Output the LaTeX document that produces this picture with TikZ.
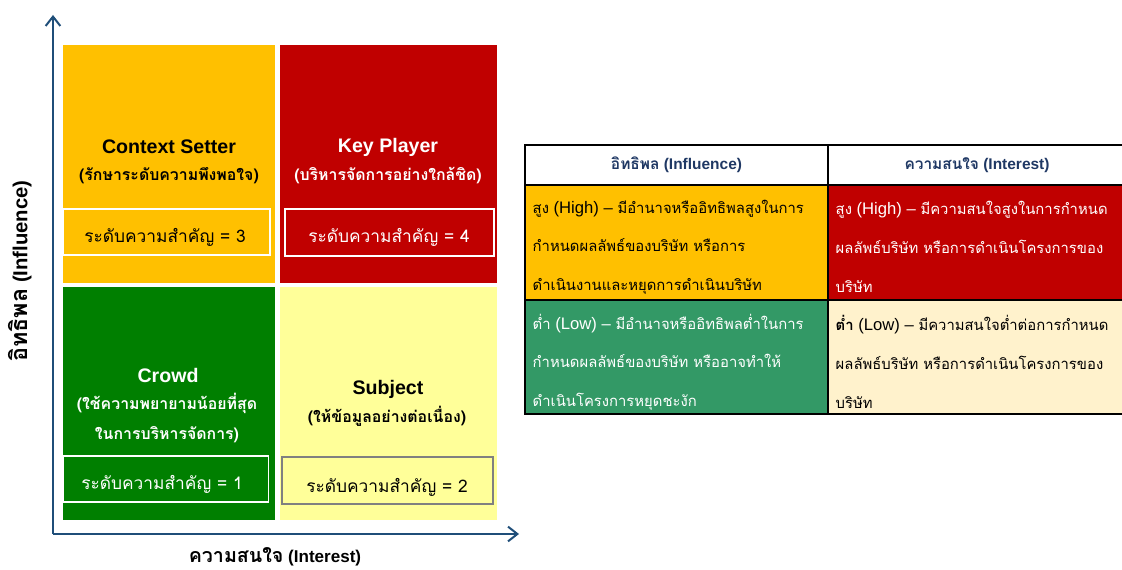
\documentclass[tikz,border=0pt]{standalone}
\usepackage{fontspec}
\setmainfont{Liberation Sans}
\newfontfamily\thai[Script=Thai]{Loma}
\newfontfamily\thaism[Script=Thai,Scale=0.89]{Loma}
\newfontfamily\thaibig[Script=Thai,Scale=1.15]{Loma}
\usetikzlibrary{arrows.meta}
\definecolor{axisblue}{HTML}{1F4E79}
\definecolor{setterfill}{HTML}{FFC000}
\definecolor{playerfill}{HTML}{C00000}
\definecolor{crowdfill}{HTML}{007F00}
\definecolor{subjectfill}{HTML}{FFFF99}
\definecolor{lowinfl}{HTML}{339966}
\definecolor{lowintr}{HTML}{FFF2CC}
\definecolor{headblue}{HTML}{1F3864}
\begin{document}
\begin{tikzpicture}[x=0.75pt,y=-0.75pt,
        role/.style={font=\bfseries\fontsize{14.7}{17}\selectfont},
        roledesc/.style={font=\thai\bfseries\fontsize{11.9}{22}\selectfont,align=center},
        rank/.style={font=\thai\fontsize{13}{15}\selectfont},
        headcell/.style={font=\bfseries\fontsize{11.6}{13}\selectfont,text=headblue},
        bodycell/.style={anchor=west,align=left,font=\fontsize{12.5}{29}\selectfont},
        axis/.style={axisblue,line width=1.5pt,-{Straight Barb[length=7pt,width=11pt,line width=1.5pt]}}]
    \useasboundingbox (0,0) rectangle (1122,570);
    % quadrants
    \fill[setterfill] (63,45) rectangle (275,283);
    \fill[playerfill] (280,45) rectangle (497,283);
    \fill[crowdfill] (63,287) rectangle (275,520);
    \fill[subjectfill] (280,287) rectangle (497,520);
    \draw[white,line width=1pt] (63,209) rectangle (270,255);
    \draw[white,line width=1pt] (285,209) rectangle (494,256);
    \draw[white,line width=1pt] (63,456) rectangle (268.5,502);
    \draw[gray,line width=1pt] (282,457) rectangle (493,504);
    \node[role] (setter) at (169,147) {Context Setter};
    \node[roledesc] (setterdesc) at (169,176) {(รักษาระดับความพึงพอใจ)};
    \node[rank] (setterrank) at (165,237) {ระดับความสำคัญ = 3};
    \node[role,white] (player) at (388,147) {Key Player};
    \node[roledesc,white] (playerdesc) at (388,176) {(บริหารจัดการอย่างใกล้ชิด)};
    \node[rank,white] (playerrank) at (389,237) {ระดับความสำคัญ = 4};
    \node[role,white] (crowd) at (168,375) {Crowd};
    \node[roledesc,white] (crowddesc) at (167,418) {(ใช้ความพยายามน้อยที่สุด\\ในการบริหารจัดการ)};
    \node[rank,white] (crowdrank) at (162,484) {ระดับความสำคัญ = 1};
    \node[role] (subject) at (388,389) {Subject};
    \node[roledesc] (subjectdesc) at (387,416) {(ให้ข้อมูลอย่างต่อเนื่อง)};
    \node[rank] (subjectrank) at (387,487) {ระดับความสำคัญ = 2};
    % axes
    \coordinate (origin) at (53,534);
    \coordinate (ytip) at (53,15);
    \coordinate (xtip) at (519,534);
    \draw[axis] (origin) -- (ytip);
    \draw[axis] (origin) -- (xtip);
    \node[font=\bfseries\fontsize{15.2}{17}\selectfont,rotate=90] (ylab) at (20,271) {{\thaibig อิทธิพล} (Influence)};
    \node[font=\bfseries\fontsize{12.8}{15}\selectfont] (xlab) at (275,557) {{\thaibig ความสนใจ} (Interest)};
    % table
    \fill[setterfill] (525,185) rectangle (828,300);
    \fill[playerfill] (828,185) rectangle (1124,300);
    \fill[lowinfl] (525,300) rectangle (828,414);
    \fill[lowintr] (828,300) rectangle (1124,414);
    \draw[line width=1.2pt] (525,145) rectangle (1124,414);
    \draw[line width=1.2pt] (525,185) -- (1124,185) (525,300) -- (1124,300) (828,145) -- (828,414);
    \node[headcell] (inflhead) at (676.5,165) {{\thai อิทธิพล} (Influence)};
    \node[headcell] (intrhead) at (977,165) {{\thai ความสนใจ} (Interest)};
    \node[bodycell] (inflhigh) at (528,247) {{\thaism สูง} (High) – {\thaism มีอำนาจหรืออิทธิพลสูงในการ}\\
        {\thaism กำหนดผลลัพธ์ของบริษัท หรือการ}\\{\thaism ดำเนินงานและหยุดการดำเนินบริษัท}};
    \node[bodycell,white] (intrhigh) at (831,247) {{\thaism สูง} (High) – {\thaism มีความสนใจสูงในการกำหนด}\\
        {\thaism ผลลัพธ์บริษัท หรือการดำเนินโครงการของ}\\{\thaism บริษัท}};
    \node[bodycell,white] (infllow) at (528,362) {{\thaism ต่ำ} (Low) – {\thaism มีอำนาจหรืออิทธิพลต่ำในการ}\\
        {\thaism กำหนดผลลัพธ์ของบริษัท หรืออาจทำให้}\\{\thaism ดำเนินโครงการหยุดชะงัก}};
    \node[bodycell] (intrlow) at (831,362) {{\thaism\bfseries ต่ำ} (Low) – {\thaism มีความสนใจต่ำต่อการกำหนด}\\
        {\thaism ผลลัพธ์บริษัท หรือการดำเนินโครงการของ}\\{\thaism บริษัท}};
\end{tikzpicture}
\end{document}
